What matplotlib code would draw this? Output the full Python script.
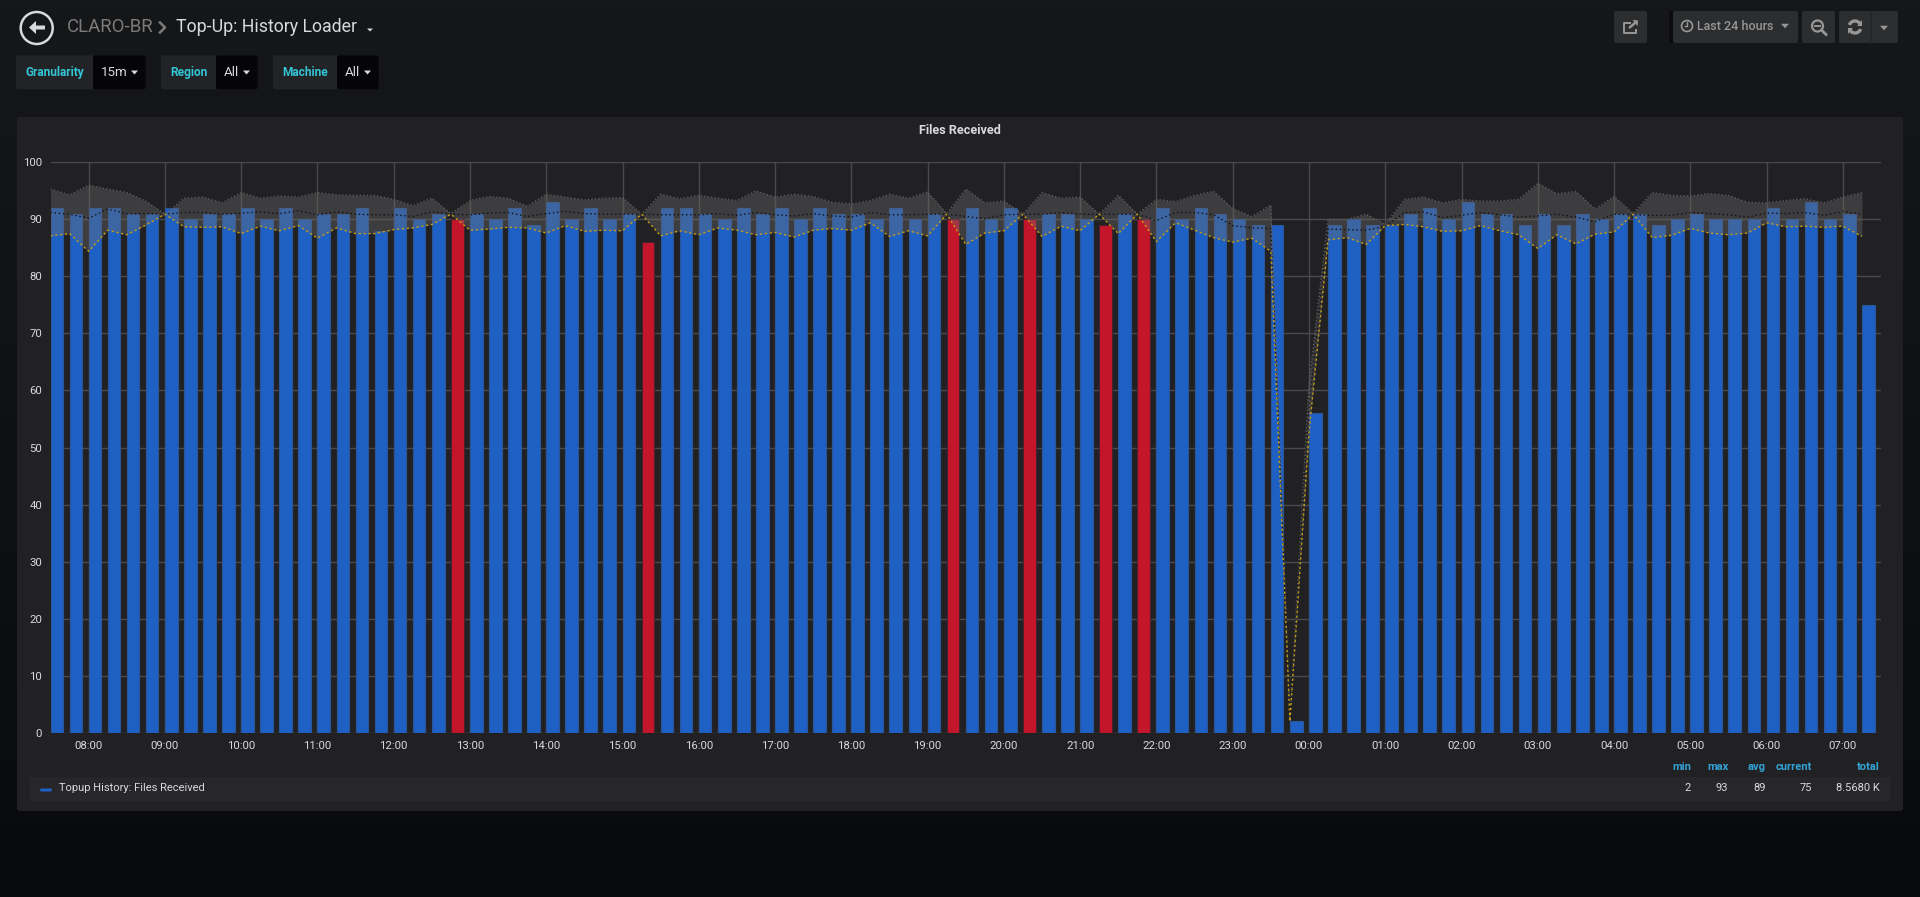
import numpy as np
import matplotlib
matplotlib.use('Agg')
import matplotlib.pyplot as plt
from matplotlib.patches import Circle, FancyBboxPatch, Polygon, Arc, FancyArrow

plt.rcParams['font.family'] = ['Roboto', 'DejaVu Sans']

# one value per 15 minutes, starting at 07:30
files_received = [
    92, 91, 92, 92, 91, 91, 92, 90, 91, 91, 92, 90, 92, 90, 91, 91,
    92, 88, 92, 90, 91, 90, 91, 90, 92, 89, 93, 90, 92, 90, 91, 86,
    92, 92, 91, 90, 92, 91, 92, 90, 92, 91, 91, 90, 92, 90, 91, 90,
    92, 90, 92, 90, 91, 91, 90, 89, 91, 90, 92, 90, 92, 91, 90, 89,
    89, 2, 56, 89, 90, 89, 89, 91, 92, 90, 93, 91, 91, 89, 91, 89,
    91, 90, 91, 91, 89, 90, 91, 90, 90, 90, 92, 90, 93, 90, 91, 75,
]
band_max = [
    95.3, 94.3, 96.0, 95.3, 94.7, 93.2, 90.9, 93.7, 93.9, 92.9, 94.7, 93.7, 94.1, 93.9, 94.7, 94.3,
    94.2, 94.2, 93.5, 92.4, 93.7, 91.0, 93.3, 94.0, 93.7, 92.3, 94.4, 93.9, 93.4, 93.7, 93.8, 90.9,
    94.4, 93.6, 94.2, 93.7, 93.3, 95.0, 93.9, 94.4, 94.0, 93.0, 92.7, 93.3, 94.4, 93.7, 94.8, 91.0,
    95.3, 92.9, 93.2, 90.9, 94.7, 93.7, 93.9, 90.9, 94.2, 90.9, 93.5, 93.1, 94.2, 94.9, 91.9, 90.5,
    92.5, 2.0, 61.0, 90.0, 90.0, 90.9, 89.1, 93.5, 93.9, 92.9, 93.5, 93.2, 93.2, 93.5, 96.3, 94.5,
    94.9, 91.8, 94.0, 91.0, 94.7, 94.2, 94.1, 94.5, 94.2, 93.0, 92.9, 93.3, 93.6, 92.9, 93.9, 94.7,
]
band_avg = [
    91.2, 90.9, 90.2, 91.8, 91.0, 91.0, 90.9, 91.2, 91.2, 90.9, 91.1, 91.3, 91.0, 91.5, 90.8, 91.3,
    90.9, 90.8, 90.8, 90.5, 91.3, 90.9, 90.8, 91.1, 91.2, 90.5, 91.0, 91.4, 91.0, 90.9, 90.9, 90.9,
    90.8, 90.8, 90.8, 91.0, 90.7, 91.2, 90.8, 90.6, 91.0, 90.6, 90.4, 91.2, 90.8, 90.8, 90.9, 90.9,
    90.5, 90.1, 90.8, 90.9, 90.9, 91.2, 90.9, 90.9, 90.9, 90.9, 89.8, 91.2, 91.2, 90.8, 88.9, 88.5,
    88.4, 2.0, 57.0, 88.3, 88.2, 88.1, 88.8, 91.2, 91.3, 90.3, 90.7, 91.2, 90.8, 90.4, 90.6, 90.9,
    90.4, 89.6, 90.9, 90.8, 90.7, 90.7, 91.2, 91.0, 90.8, 90.4, 91.1, 91.0, 91.2, 90.7, 91.4, 90.9,
]
band_min = [
    87.1, 87.5, 84.4, 88.1, 87.3, 89.0, 90.9, 88.7, 88.6, 88.7, 87.5, 88.8, 88.0, 88.9, 86.7, 88.5,
    87.5, 87.5, 88.2, 88.5, 89.1, 90.9, 88.1, 88.3, 88.6, 88.5, 87.6, 88.9, 87.9, 88.1, 88.0, 90.9,
    87.1, 88.0, 87.3, 88.5, 88.1, 87.3, 87.7, 86.9, 88.1, 88.4, 88.1, 89.4, 87.0, 88.0, 87.1, 90.9,
    85.6, 87.6, 88.0, 90.9, 87.0, 88.8, 88.0, 90.9, 87.5, 90.9, 86.1, 89.4, 88.1, 86.8, 86.0, 86.7,
    84.4, 2.0, 52.5, 86.4, 86.8, 85.6, 88.9, 89.1, 88.7, 87.9, 88.0, 88.9, 88.0, 87.3, 84.9, 87.3,
    85.7, 87.4, 87.8, 90.9, 86.8, 87.2, 88.4, 87.6, 87.3, 87.6, 89.4, 88.7, 88.8, 88.6, 88.8, 87.0,
]
alert_slots = ['12:45', '15:15', '19:15', '20:15', '21:15', '21:45']

y_ticks = [0, 10, 20, 30, 40, 50, 60, 70, 80, 90, 100]
hour_labels = ['08:00', '09:00', '10:00', '11:00', '12:00', '13:00', '14:00', '15:00',
               '16:00', '17:00', '18:00', '19:00', '20:00', '21:00', '22:00', '23:00',
               '00:00', '01:00', '02:00', '03:00', '04:00', '05:00', '06:00', '07:00']
stat_names = ['min', 'max', 'avg', 'current', 'total']
stat_values = ['2', '93', '89', '75', '8.5680 K']
series_name = 'Topup History: Files Received'

BLUE = '#1f60c4'
RED = '#c4162a'
PANEL = '#212124'
TEXT = '#d8d9da'
CYAN = '#33c5d5'
GREY_TXT = '#979797'
BTN = '#2c2d2f'

W, H = 1920, 897
fig = plt.figure(figsize=(W / 100, H / 100), dpi=100)

# page chrome is drawn in pixel coordinates
bg = fig.add_axes([0, 0, 1, 1], zorder=0)
bg.set_xlim(0, W)
bg.set_ylim(H, 0)
bg.axis('off')
top = np.array([22, 23, 25]) / 255
bottom = np.array([9, 10, 12]) / 255
grad = np.linspace(0, 1, 200)[:, None, None] * (bottom - top) + top
bg.imshow(grad, extent=[0, W, H, 0], aspect='auto', zorder=0)


def box(x0, y0, x1, y1, color, r=2, z=1):
    bg.add_patch(FancyBboxPatch((x0, y0), x1 - x0, y1 - y0, boxstyle=f'round,pad=0,rounding_size={r}',
                                fc=color, ec='none', zorder=z))


def caret(cx, cy, w, h, color):
    bg.add_patch(Polygon([(cx - w / 2, cy - h / 2), (cx + w / 2, cy - h / 2), (cx, cy + h / 2)],
                         fc=color, ec='none', zorder=3))


def label(x, y, s, color=TEXT, size=8, ha='left', weight='normal'):
    bg.text(x, y, s, color=color, fontsize=size, ha=ha, va='center', weight=weight, zorder=4)


# header
bg.add_patch(Circle((36.7, 28), 16, fc='none', ec=TEXT, lw=1.8, zorder=3))
bg.add_patch(FancyArrow(45, 27.5, -16, 0, width=4, head_width=13, head_length=7,
                        length_includes_head=True, fc=TEXT, ec='none', zorder=3))
label(67.3, 27, 'CLARO-BR', color='#7b7b7b', size=13.4)
bg.plot([160, 165, 160], [22.5, 27.5, 32.5], color='#7b7b7b', lw=1.8, zorder=3)
label(176, 27, 'Top-Up: History Loader', size=12.8)
caret(370, 30, 6, 3, TEXT)

# template variables
variables = [(16, 93, 145.7, 25, 'Granularity', '15m', 134.5),
             (161, 216, 257.7, 170, 'Region', 'All', 246.5),
             (273, 337, 378.7, 282, 'Machine', 'All', 367.5)]
for x0, x1, x2, tx, name, val, cx in variables:
    box(x0, 55.3, x2, 89.3, '#222326', r=2)
    box(x1, 55.3, x2, 89.3, '#050507', r=2, z=2)
    label(tx, 72.5, name, color=CYAN, size=8.6, weight='bold')
    label(x1 + 8, 73, val, size=9.6)
    caret(cx, 72.5, 7, 4, TEXT)

# top right buttons
box(1614, 11, 1647, 43, BTN)
box(1669, 11, 1674, 43, '#0c0c0e', r=0)
box(1673, 11, 1798, 43, BTN)
box(1802, 11, 1835, 43, BTN)
box(1839, 11, 1898, 43, BTN)
bg.plot([1871, 1871], [11, 43], color='#242527', lw=1, zorder=3)
bg.plot([1630, 1624, 1624, 1636, 1636], [23, 23, 33, 33, 30], color=GREY_TXT, lw=1.4, zorder=3)
bg.add_patch(FancyArrow(1629, 28, 6, -5, width=2.5, head_width=8, head_length=4,
                        fc=GREY_TXT, ec='none', zorder=3))
bg.add_patch(Circle((1687, 26), 5.5, fc='none', ec=GREY_TXT, lw=1.2, zorder=3))
bg.plot([1687, 1687, 1684.5], [22.5, 26.5, 26.5], color=GREY_TXT, lw=1, zorder=3)
label(1696.7, 26.5, 'Last 24 hours', color=GREY_TXT, size=9, weight='medium')
caret(1785, 26, 8, 4.5, GREY_TXT)
bg.add_patch(Circle((1817.5, 26), 5.5, fc='none', ec=GREY_TXT, lw=1.6, zorder=3))
bg.plot([1815, 1820], [26, 26], color=GREY_TXT, lw=1.4, zorder=3)
bg.plot([1821.5, 1826], [30, 34.5], color=GREY_TXT, lw=2, zorder=3)
bg.add_patch(Arc((1855, 27), 12, 12, theta1=200, theta2=340, ec=GREY_TXT, lw=2.4, zorder=3))
bg.add_patch(Arc((1855, 27), 12, 12, theta1=20, theta2=160, ec=GREY_TXT, lw=2.4, zorder=3))
bg.add_patch(Polygon([(1857, 26), (1862, 26), (1862, 20)], fc=GREY_TXT, ec='none', zorder=3))
bg.add_patch(Polygon([(1853, 28), (1848, 28), (1848, 34)], fc=GREY_TXT, ec='none', zorder=3))
caret(1884, 28, 8, 4.5, GREY_TXT)

# panel and legend table
box(17, 117, 1903, 811, PANEL, r=3)
label(959.5, 130, 'Files Received', size=9.1, ha='center', weight='bold')
box(30, 777.3, 1890, 801.7, '#27272a', r=1)
bg.add_patch(FancyBboxPatch((40, 788.5), 12, 3, boxstyle='round,pad=0,rounding_size=1.5',
                            fc=BLUE, ec='none', zorder=3))
label(59, 788, series_name, size=8)
for right, name, val in zip([1691, 1728.5, 1766, 1811.6, 1880], stat_names, stat_values):
    label(right, 767, name, color='#33a2d5', size=8, ha='right', weight='bold')
    label(right, 788, val, size=8, ha='right')

# the chart itself
ax_left, ax_right, ax_top, ax_bottom = 50.5, 1881, 162.3, 732.7
ax = fig.add_axes([ax_left / W, 1 - ax_bottom / H, (ax_right - ax_left) / W, (ax_bottom - ax_top) / H], zorder=1)
ax.patch.set_alpha(0)

hours = 7.5 + np.arange(len(files_received)) * 0.25
slot_names = [f'{int(h) % 24:02d}:{int((h % 1) * 60):02d}' for h in hours]
colors = [RED if s in alert_slots else BLUE for s in slot_names]
edges = ['#4a2030' if s in alert_slots else '#2a5596' for s in slot_names]

ax.bar(hours, files_received, width=0.166, align='edge', color=colors, edgecolor=edges, linewidth=0.8, zorder=2)
ax.fill_between(hours, band_min, band_max, color='#6e6e6e', alpha=0.37, linewidth=0, zorder=3)
ax.plot(hours, band_max, color='#5c5c5e', lw=1, ls=(0, (1, 1.5)), zorder=4)
ax.plot(hours, band_avg, color='#101012', lw=1, ls=(0, (1, 2)), zorder=4)
ax.plot(hours, band_min, color='#c8a010', lw=1, ls=(0, (1.5, 2)), zorder=5)

ax.set_xlim(7.5, 31.5)
ax.set_ylim(0, 100)
ax.set_yticks(y_ticks)
ax.set_xticks(np.arange(8, 32))
ax.set_xticklabels(hour_labels)
ax.tick_params(axis='both', length=0, colors=TEXT, labelsize=8.2)
ax.tick_params(axis='y', pad=6)
ax.tick_params(axis='x', pad=6)
ax.grid(True, color='#4a4a4c', lw=1, zorder=1)
ax.set_axisbelow(True)
for s in ax.spines.values():
    s.set_visible(False)

fig.savefig('out.png', dpi=100, facecolor='#161719')
plt.close(fig)
